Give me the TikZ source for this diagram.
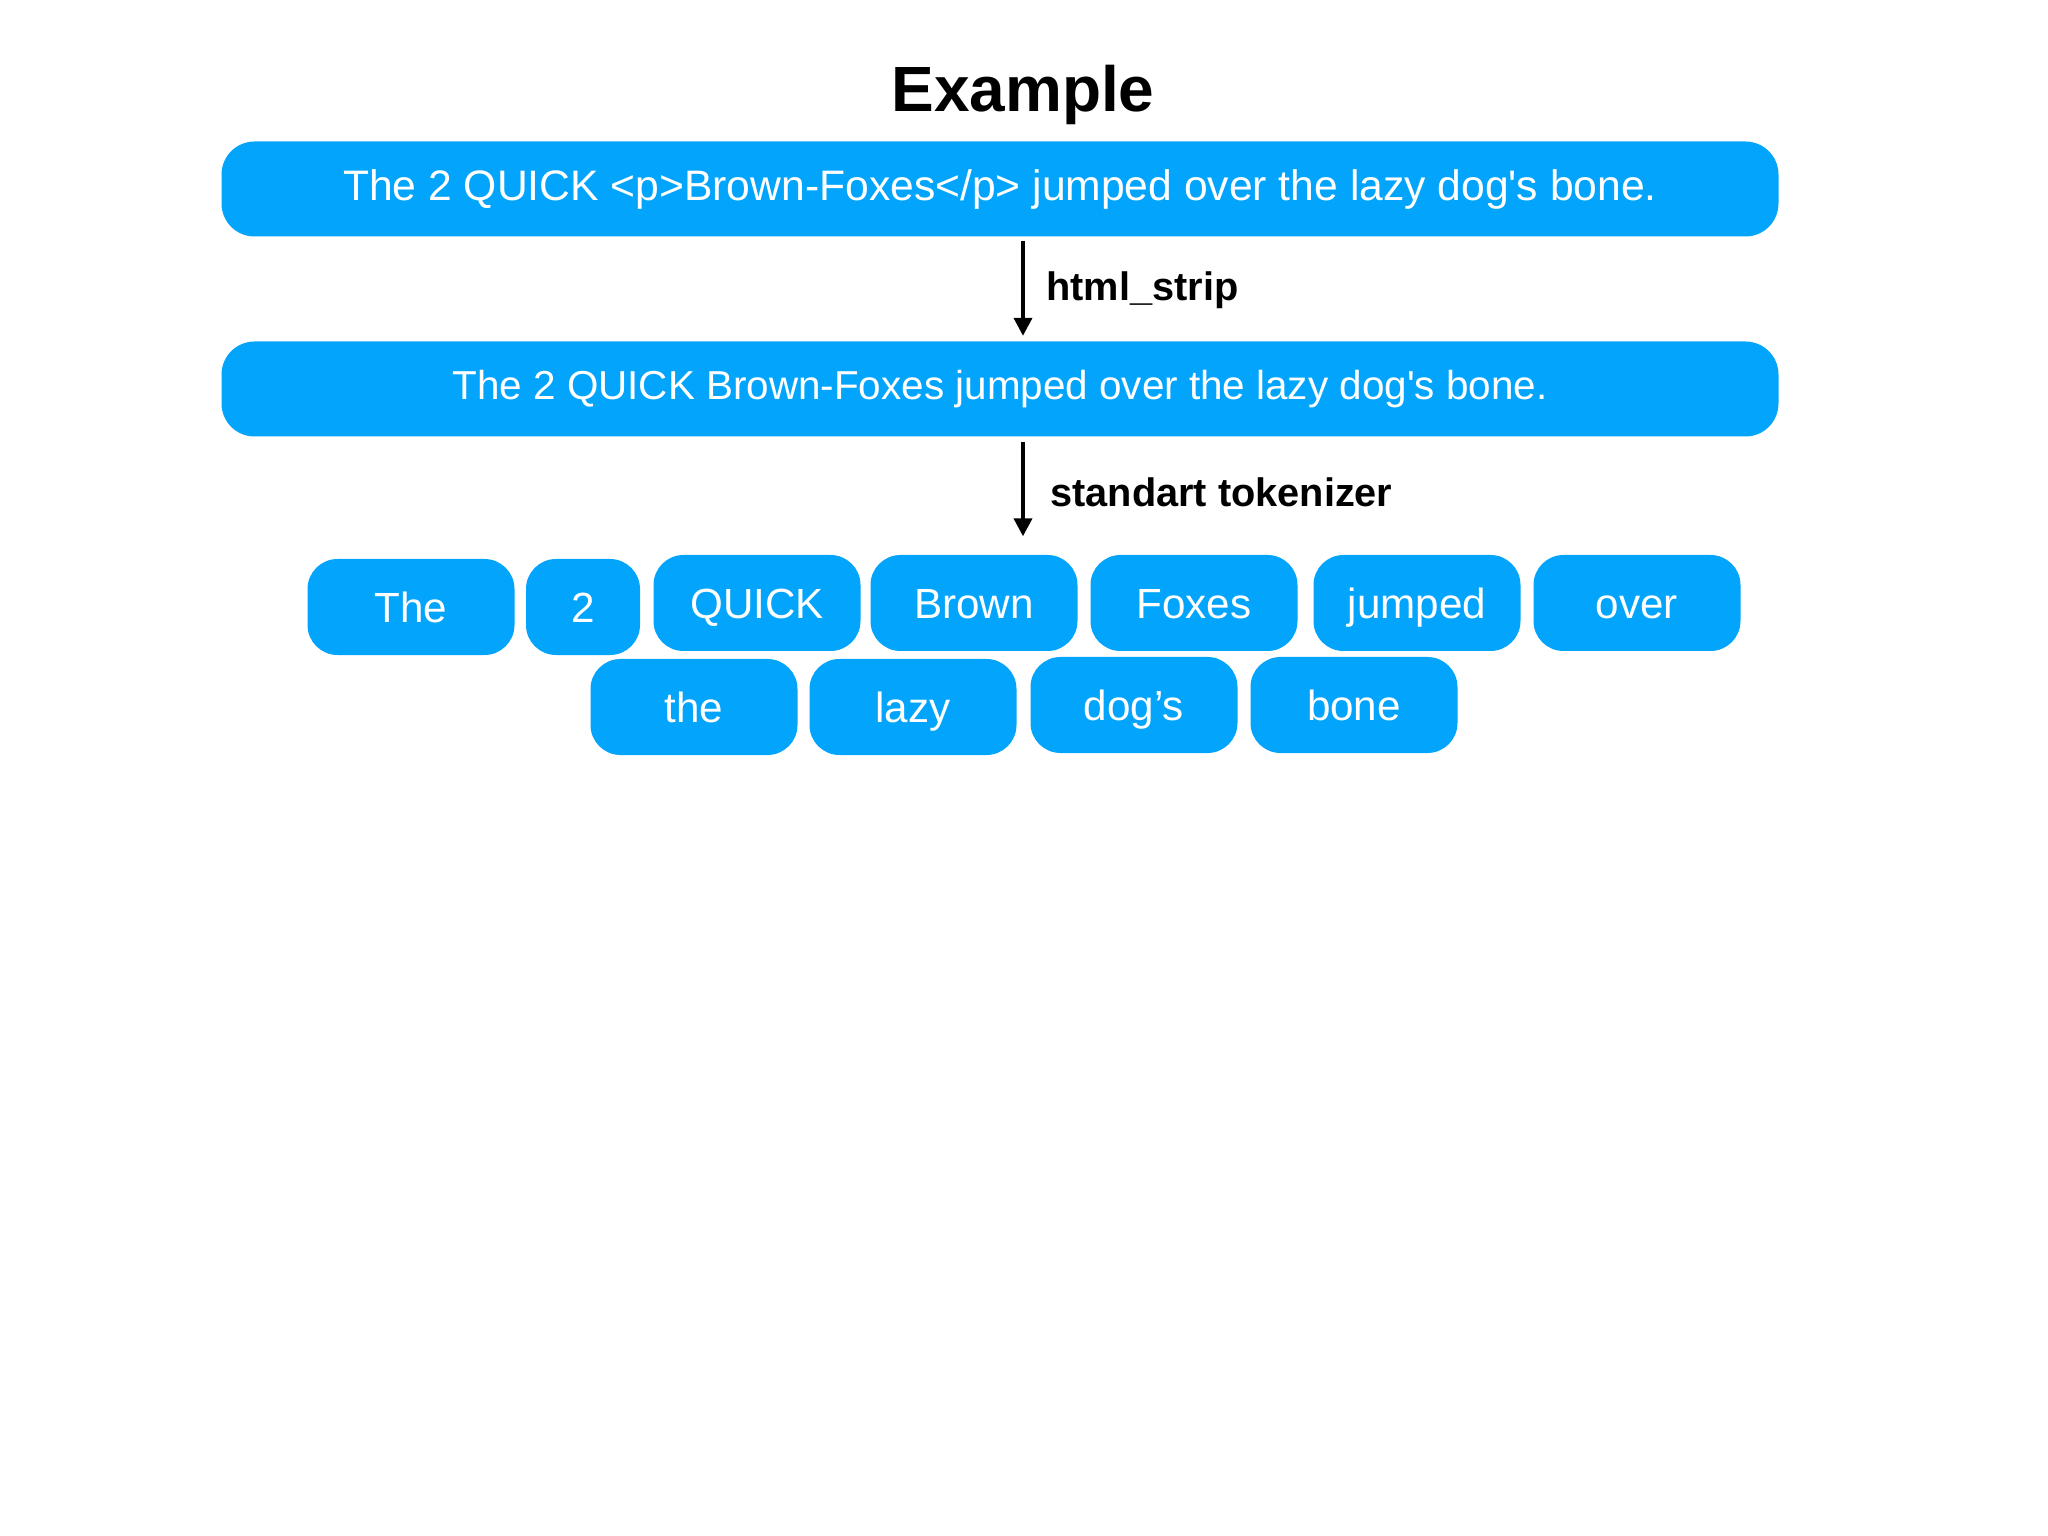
\documentclass[tikz,border=0pt]{standalone}
\usepackage{fontspec}
\setmainfont{Liberation Sans}
\usetikzlibrary{arrows.meta}
\definecolor{tokblue}{RGB}{3,165,252}

\begin{document}
\begin{tikzpicture}[
    sentence/.style={rectangle, rounded corners=0.33cm, fill=tokblue, text=white, minimum width=15.57cm, minimum height=0.95cm, align=center},
    token/.style={rectangle, rounded corners=0.3cm, fill=tokblue, text=white, minimum width=2.07cm, minimum height=0.96cm, text height=0.88em, text depth=0pt, font=\fontsize{12}{14}\selectfont},
    step label/.style={anchor=west, font=\bfseries\fontsize{11.3}{13}\selectfont},
    arrow/.style={-{Triangle[width=0.18cm, length=0.18cm]}, line width=1.1pt}
]
    \useasboundingbox (0,0) rectangle (20.48,-15.36);

    % Title
    \node[font=\bfseries\fontsize{18.2}{21}\selectfont] (title) at (10.23, -0.95) {Example};

    % Input and stripped sentence
    \node[sentence, font=\fontsize{12.13}{14}\selectfont] (raw) at (10.0, -1.89) {The 2 QUICK <p>Brown-Foxes</p> jumped over the lazy dog\textquotesingle s bone.};
    \node[sentence, font=\fontsize{11.5}{14}\selectfont] (clean) at (10.0, -3.89) {The 2 QUICK Brown-Foxes jumped over the lazy dog\textquotesingle s bone.};

    % Tokens, first row
    \node[token] (t1) at (4.11, -6.07) {The};
    \node[token, minimum width=1.14cm] (t2) at (5.83, -6.07) {2};
    \node[token] (t3) at (7.57, -6.03) {QUICK};
    \node[token] (t4) at (9.74, -6.03) {Brown};
    \node[token] (t5) at (11.94, -6.03) {Foxes};
    \node[token] (t6) at (14.17, -6.03) {jumped};
    \node[token] (t7) at (16.37, -6.03) {over};

    % Tokens, second row
    \node[token] (t8) at (6.94, -7.07) {the};
    \node[token] (t9) at (9.13, -7.07) {lazy};
    \node[token] (t10) at (11.34, -7.05) {dog’s};
    \node[token] (t11) at (13.54, -7.05) {bone};

    % Steps
    \draw[arrow] (title |- raw.south) ++(0,-0.04) -- ([yshift=0.05cm]title |- clean.north);
    \node[step label] (strip) at (10.34, -2.90) {html\_strip};
    \draw[arrow] (title |- clean.south) ++(0,-0.05) -- ([yshift=0.18cm]title |- t4.north);
    \node[step label] (tokenizer) at (10.38, -4.92) {standart tokenizer};
\end{tikzpicture}
\end{document}
